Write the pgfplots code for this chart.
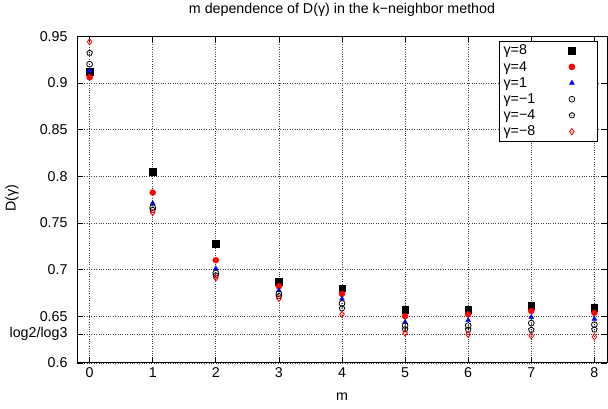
\documentclass[border=0pt]{standalone}
\usepackage{fontspec}
\setmainfont{Liberation Sans}
\usepackage{pgfplots}
\pgfplotsset{compat=1.18}
\usetikzlibrary{plotmarks}

\pgfdeclareplotmark{odot}{%
  \pgfpathcircle{\pgfpointorigin}{\pgfplotmarksize}\pgfusepathqstroke
  \pgfpathcircle{\pgfpointorigin}{0.6pt}\pgfusepathqfill}
\pgfdeclareplotmark{pentagondot}{%
  \pgfuseplotmark{pentagon}%
  \pgfpathcircle{\pgfpointorigin}{0.6pt}\pgfusepathqfill}
\pgfdeclareplotmark{diamonddot}{%
  \pgfuseplotmark{diamond}%
  \pgfpathcircle{\pgfpointorigin}{0.6pt}\pgfusepathqfill}

\pgfplotsset{lm/.style={only marks,
  legend image code/.code={%
    \draw[mark repeat=2,mark phase=2,##1] plot coordinates {(0bp,0bp)(4bp,0bp)(8bp,0bp)};
    \path (0bp,0bp) (27bp,0bp);}}}

\begin{document}
\begin{tikzpicture}
\begin{axis}[
  scale only axis,
  width=530bp, height=326.7bp,
  xmin=-0.2, xmax=8.2,
  ymin=0.6, ymax=0.95,
  xtick={0,1,2,3,4,5,6,7,8},
  ytick={0.6,0.65,0.7,0.75,0.8,0.85,0.9,0.95},
  yticklabels={0.6,0.65,0.7,0.75,0.8,0.85,0.9,0.95},
  extra y ticks={0.63093},
  extra y tick labels={log2/log3},
  extra tick style={grid=major},
  grid=major,
  grid style={dotted, line width=0.7bp, black!75},
  axis line style={line width=0.8bp},
  major tick length=6bp,
  tick style={line width=0.7bp, black},
  tick align=inside,
  /pgf/number format/assume math mode=true,
  tick label style={font=\fontsize{14.3}{16}\selectfont},
  yticklabel style={xshift=-6bp},
  xticklabel style={yshift=-1bp},
  xlabel={m},
  ylabel={D(γ)},
  xlabel style={font=\fontsize{14.3}{16}\selectfont, at={(axis description cs:0.5,-0.104)}, anchor=center},
  ylabel style={font=\fontsize{14.3}{16}\selectfont, at={(axis description cs:-0.1226,0.504)}, anchor=center},
  title={m dependence of D(γ) in the k−neighbor method},
  title style={font=\fontsize{14.3}{16}\selectfont, at={(axis description cs:0.5,1.062)}, anchor=center},
  legend plot pos=right,
  legend cell align=left,
  legend style={at={(axis description cs:0.983,0.985)}, anchor=north east,
    draw=black, line width=0.6bp, font=\fontsize{14.3}{16}\selectfont,
    row sep=0.9bp, inner xsep=2.5bp, inner ysep=1.5bp},
]
\addplot[lm, mark=square*, mark size=3.3bp, black] coordinates {
 (0,0.912)(1,0.805)(2,0.728)(3,0.687)(4,0.680)(5,0.657)(6,0.657)(7,0.661)(8,0.659)};
\addlegendentry{\makebox[62bp][l]{γ=8}}
\addplot[lm, mark=*, mark size=3bp, red] coordinates {
 (0,0.906)(1,0.7825)(2,0.710)(3,0.682)(4,0.674)(5,0.650)(6,0.652)(7,0.6556)(8,0.6536)};
\addlegendentry{\makebox[62bp][l]{γ=4}}
\addplot[lm, mark=triangle*, mark size=2.8bp, blue] coordinates {
 (0,0.913)(1,0.771)(2,0.701)(3,0.6776)(4,0.6686)(5,0.6437)(6,0.6456)(7,0.649)(8,0.647)};
\addlegendentry{\makebox[62bp][l]{γ=1}}
\addplot[lm, mark=odot, mark size=2.9bp, black, mark options={line width=0.8bp}] coordinates {
 (0,0.920)(1,0.7664)(2,0.6964)(3,0.674)(4,0.6637)(5,0.640)(6,0.640)(7,0.6426)(8,0.641)};
\addlegendentry{\makebox[62bp][l]{γ=−1}}
\addplot[lm, mark=pentagondot, mark size=2.9bp, black, mark options={line width=0.8bp}] coordinates {
 (0,0.932)(1,0.764)(2,0.6936)(3,0.6715)(4,0.6583)(5,0.636)(6,0.6355)(7,0.6355)(8,0.6357)};
\addlegendentry{\makebox[62bp][l]{γ=−4}}
\addplot[lm, mark=diamonddot, mark size=3.1bp, red, mark options={line width=0.8bp}] coordinates {
 (0,0.944)(1,0.761)(2,0.691)(3,0.669)(4,0.652)(5,0.632)(6,0.6305)(7,0.629)(8,0.628)};
\addlegendentry{\makebox[62bp][l]{γ=−8}}
\end{axis}
\path ([xshift=-77bp,yshift=-45.3bp]current axis.south west) rectangle ([xshift=1bp,yshift=35bp]current axis.north east);
\end{tikzpicture}
\end{document}
